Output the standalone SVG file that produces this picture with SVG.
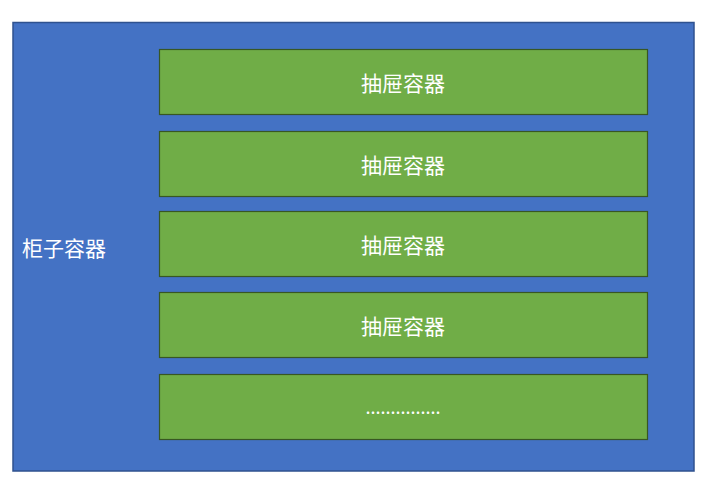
<svg xmlns="http://www.w3.org/2000/svg" width="709" height="488" viewBox="0 0 709 488">
<style>
.cab{fill:#4472C4;stroke:#2F528F;stroke-width:1.5}
.drw{fill:#70AD47;stroke:#385723;stroke-width:1.2}
.t{fill:#fff;font-family:"Noto Sans CJK SC","Noto Sans",sans-serif;font-size:21px}
.c{text-anchor:middle;dominant-baseline:central}
</style>
<rect x="0" y="0" width="709" height="488" fill="#fff"/>
<g id="cabinet">
<rect class="cab" x="13" y="22.5" width="681" height="448.5"/>
<text class="t" x="22" y="247" dominant-baseline="central">柜子容器</text>
</g>
<g id="drawer1"><rect class="drw" x="159.5" y="49.5" width="488" height="65"/><text class="t c" x="403" y="82">抽屉容器</text></g>
<g id="drawer2"><rect class="drw" x="159.5" y="131.5" width="488" height="65"/><text class="t c" x="403" y="164">抽屉容器</text></g>
<g id="drawer3"><rect class="drw" x="159.5" y="211.5" width="488" height="65"/><text class="t c" x="403" y="244">抽屉容器</text></g>
<g id="drawer4"><rect class="drw" x="159.5" y="292.5" width="488" height="65"/><text class="t c" x="403" y="325">抽屉容器</text></g>
<g id="drawer5"><rect class="drw" x="159.5" y="374.5" width="488" height="65"/><text class="t" x="403" y="414" text-anchor="middle" style="font-size:18px">...............</text></g>
<g id="connectors"/>
</svg>
